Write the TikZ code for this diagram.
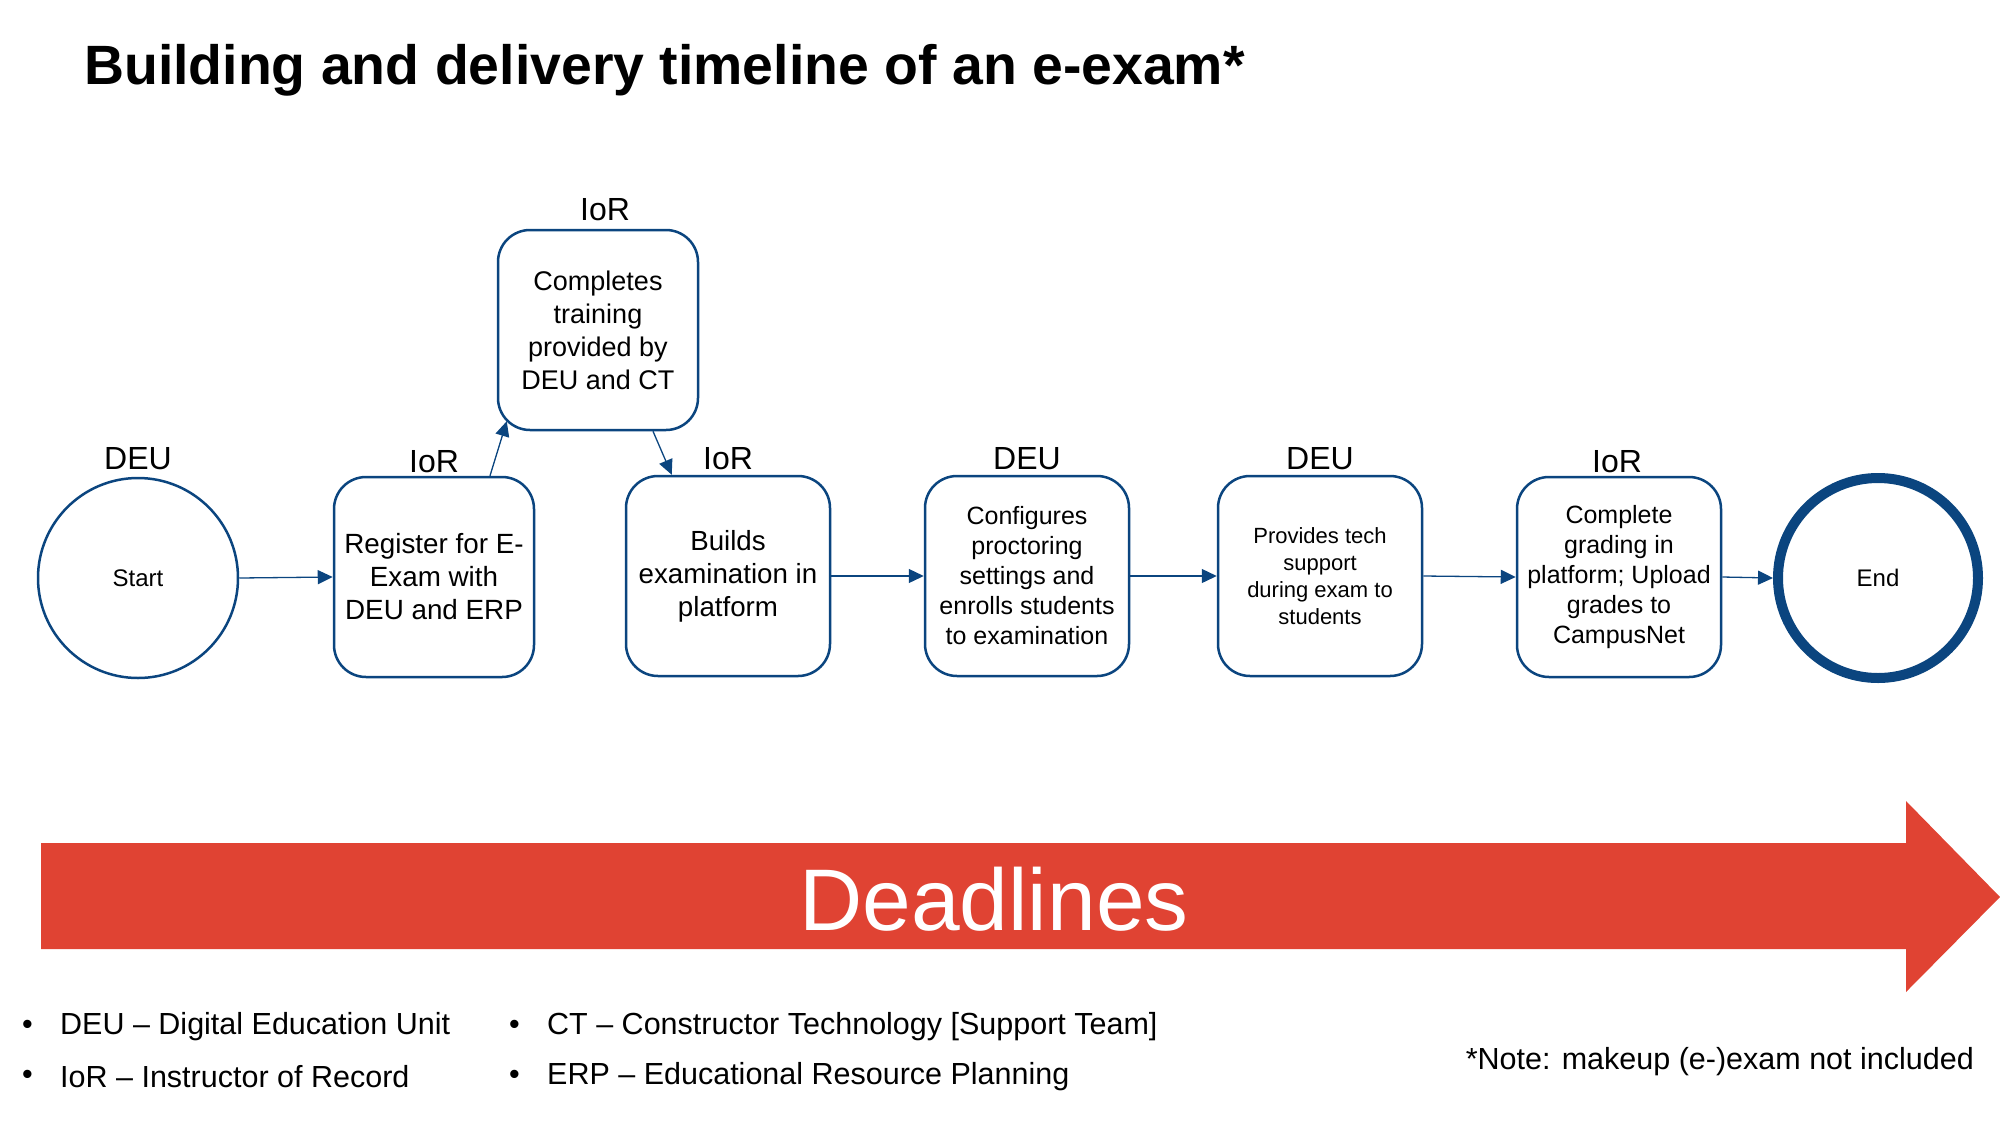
\documentclass[tikz,border=0pt]{standalone}
\usepackage{fontspec}
\setmainfont{Liberation Sans}
\usetikzlibrary{arrows.meta,calc}
\definecolor{navy}{HTML}{0B457F}
\definecolor{dlred}{HTML}{E04333}
\tikzset{
  stepbox/.style={draw=navy, line width=2.5pt, rounded corners=32pt, fill=white,
    minimum width=200pt, minimum height=200pt, align=center, inner sep=2pt},
  role/.style={font=\fontsize{32}{36}\selectfont, inner sep=0pt},
  flow/.style={draw=navy, line width=1.3pt, -{Triangle[length=15pt,width=14pt]}},
  legend/.style={font=\fontsize{30.5}{34}\selectfont, anchor=west, inner sep=0pt},
}
\begin{document}
\begin{tikzpicture}[x=1pt,y=-1pt]
\useasboundingbox (0,0) rectangle (2000,1125);
% title
\node[anchor=base west, inner sep=0pt, font=\bfseries\fontsize{55.4}{60}\selectfont] (title) at (84,84) {Building and delivery timeline of an e-exam*};
% start / end
\node[circle, draw=navy, line width=2.5pt, minimum size=200pt, font=\fontsize{24}{28}\selectfont] (start) at (138,578) {Start};
\node[circle, draw=navy, line width=10pt, minimum size=200pt, font=\fontsize{24}{28}\selectfont] (end) at (1878,578) {End};
% boxes
\node[stepbox, font=\fontsize{27.8}{33}\selectfont] (reg) at (434,577) {Register for E-\\Exam with\\DEU and ERP};
\node[stepbox, font=\fontsize{27}{33}\selectfont] (train) at (598,330) {Completes\\training\\provided by\\DEU and CT};
\node[stepbox, font=\fontsize{27.7}{33}\selectfont, minimum width=204pt] (build) at (728,576) {Builds\\examination in\\platform};
\node[stepbox, font=\fontsize{25}{30}\selectfont, minimum width=204pt] (conf) at (1027,576) {Configures\\proctoring\\settings and\\enrolls students\\to examination};
\node[stepbox, font=\fontsize{22}{27}\selectfont, minimum width=204pt] (tech) at (1320,576) {Provides tech\\support\\during exam to\\students};
\node[stepbox, font=\fontsize{25}{30}\selectfont, minimum width=204pt] (grade) at (1619,577) {Complete\\grading in\\platform; Upload\\grades to\\CampusNet};
% role labels
\node[role] (lstart) at (138,459) {DEU};
\node[role] (lreg) at (434,462) {IoR};
\node[role] (ltrain) at (605,210) {IoR};
\node[role] (lbuild) at (728,459) {IoR};
\node[role] (lconf) at (1027,459) {DEU};
\node[role] (ltech) at (1320,459) {DEU};
\node[role] (lgrade) at (1617,462) {IoR};
% connectors
\draw[flow] (start.east) -- (reg.west);
\draw[flow] ([xshift=56pt]reg.north) -- ([xshift=10pt,yshift=10pt]train.south west);
\draw[flow] ([xshift=55pt]train.south) -- ([xshift=47pt]build.north west);
\draw[flow] (build.east) -- (conf.west);
\draw[flow] (conf.east) -- (tech.west);
\draw[flow] (tech.east) -- (grade.west);
\draw[flow] (grade.east) -- (end.west);
% deadlines arrow
\fill[dlred] (41,843) -- (1906,843) -- (1906,801) -- (2000,897) -- (1906,992) -- (1906,949) -- (41,949) -- cycle;
\node[text=white, inner sep=0pt, font=\fontsize{87.5}{90}\selectfont] (dl) at (994,899) {Deadlines};
% legend
\node[legend] (b1) at (22,1027) {•};
\node[legend] (t1) at (60,1027) {DEU – Digital Education Unit};
\node[legend] (b2) at (22,1077) {•};
\node[legend] (t2) at (60,1077) {IoR – Instructor of Record};
\node[legend] (b3) at (509,1027) {•};
\node[legend] (t3) at (547,1027) {CT – Constructor Technology [Support Team]};
\node[legend] (b4) at (509,1077) {•};
\node[legend] (t4) at (547,1077) {ERP – Educational Resource Planning};
\node[legend, anchor=east] (note) at (1974,1062) {*Note: makeup (e-)exam not included};
\end{tikzpicture}
\end{document}
